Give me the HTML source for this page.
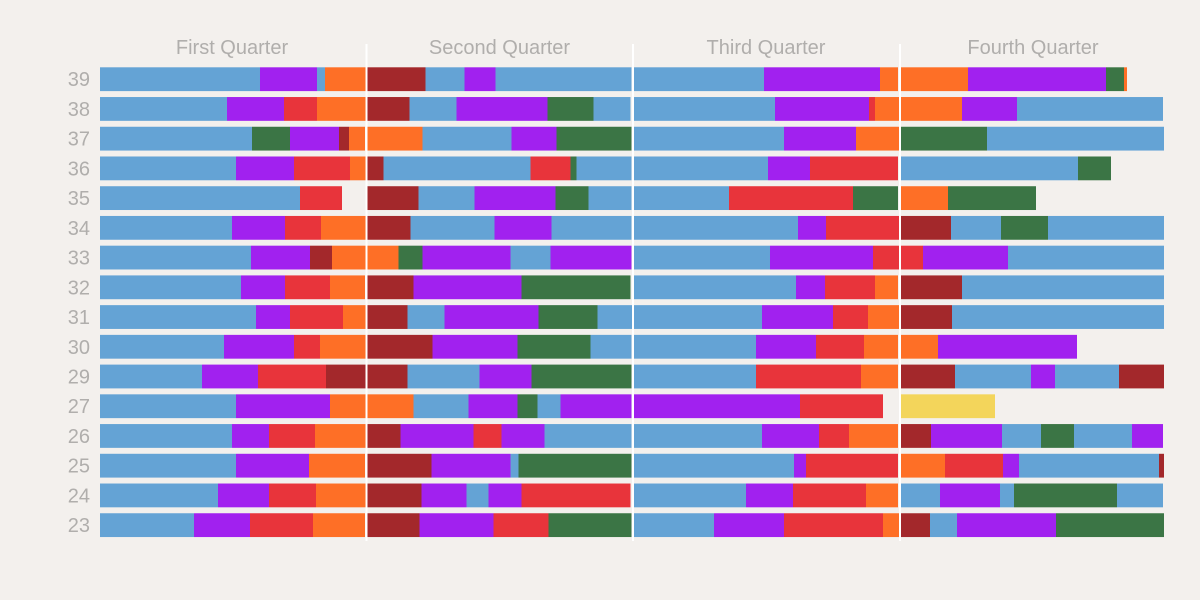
<!DOCTYPE html>
<html><head><meta charset="utf-8"><style>
html,body{margin:0;padding:0;background:#f3f0ed;}
svg{display:block;}
</style></head><body>
<svg id="chart" width="1200" height="600" viewBox="0 0 1200 600" xmlns="http://www.w3.org/2000/svg">
<rect x="0" y="0" width="1200" height="600" fill="#f3f0ed"/>
</svg>
<script>
const rows = ['39','38','37','36','35','34','33','32','31','30','29','27','26','25','24','23'];
const quarters = ['First Quarter','Second Quarter','Third Quarter','Fourth Quarter'];
const q1 = [
 [['B',160],['P',57],['B',8],['O',41]],
 [['B',127],['P',57],['R',33],['O',49]],
 [['B',152],['G',38],['P',49],['D',10],['O',16]],
 [['B',136],['P',58],['R',56],['O',16]],
 [['B',200],['R',42]],
 [['B',132],['P',53],['R',36],['O',45]],
 [['B',151],['P',59],['D',22],['O',34]],
 [['B',141],['P',44],['R',45],['O',35]],
 [['B',156],['P',34],['R',53],['O',23]],
 [['B',124],['P',70],['R',26],['O',46]],
 [['B',102],['P',56],['R',68],['D',40]],
 [['B',136],['P',94],['O',36]],
 [['B',132],['P',37],['R',46],['O',51]],
 [['B',136],['P',73],['O',56]],
 [['B',118],['P',51],['R',47],['O',50]],
 [['B',94],['P',56],['R',63],['O',52]]
];
const q2 = [
 [['D',58],['B',39],['P',31],['B',136]],
 [['D',42],['B',47],['P',91],['G',46],['B',37]],
 [['O',55],['B',89],['P',45],['G',75]],
 [['D',16],['B',147],['R',40],['G',6],['B',55]],
 [['D',51],['B',56],['P',81],['G',33],['B',43]],
 [['D',43],['B',84],['P',57],['B',80]],
 [['O',31],['G',24],['P',88],['B',40],['P',81]],
 [['D',46],['P',108],['G',109]],
 [['D',40],['B',37],['P',94],['G',59],['B',35]],
 [['D',65],['P',85],['G',73],['B',41]],
 [['D',40],['B',72],['P',52],['G',100]],
 [['O',46],['B',55],['P',49],['G',20],['B',23],['P',71]],
 [['D',33],['P',73],['R',28],['P',43],['B',87]],
 [['D',64],['P',79],['B',8],['G',113]],
 [['D',54],['P',45],['B',22],['P',33],['R',109]],
 [['D',52],['P',74],['R',55],['G',83]]
];
const q3 = [
 [['B',130],['P',116],['O',18]],
 [['B',141],['P',94],['R',6],['O',24]],
 [['B',150],['P',72],['O',43]],
 [['B',134],['P',42],['R',88]],
 [['B',95],['R',124],['G',45]],
 [['B',164],['P',28],['R',73]],
 [['B',136],['P',103],['R',26]],
 [['B',162],['P',29],['R',50],['O',23]],
 [['B',128],['P',71],['R',35],['O',31]],
 [['B',122],['P',60],['R',48],['O',34]],
 [['B',122],['R',105],['O',37]],
 [['P',166],['R',83]],
 [['B',128],['P',57],['R',30],['O',49]],
 [['B',160],['P',12],['R',92]],
 [['B',112],['P',47],['R',73],['O',32]],
 [['B',80],['P',70],['R',99],['O',16]]
];
const q4 = [
 [['O',67],['P',138],['G',18],['O',3]],
 [['O',61],['P',55],['B',146]],
 [['G',86],['B',177]],
 [['B',177],['G',33]],
 [['O',47],['G',88]],
 [['D',50],['B',50],['G',47],['B',116]],
 [['R',22],['P',85],['B',156]],
 [['D',61],['B',202]],
 [['D',51],['B',212]],
 [['O',37],['P',139]],
 [['D',54],['B',76],['P',24],['B',64],['D',45]],
 [['Y',94]],
 [['D',30],['P',71],['B',39],['G',33],['B',58],['P',31]],
 [['O',44],['R',58],['P',16],['B',140],['D',5]],
 [['B',39],['P',60],['B',14],['G',103],['B',46]],
 [['D',29],['B',27],['P',99],['G',108]]
];
const quarterData = [q1,q2,q3,q4];

const colors = {B:'#64a3d5',P:'#a121ef',R:'#e8343b',O:'#fe6f26',D:'#a3282b',G:'#3b7545',Y:'#f3d55b'};
const colorNames = {B:'blue',P:'purple',R:'red',O:'orange',D:'darkred',G:'green',Y:'yellow'};
const NS='http://www.w3.org/2000/svg';
const svg=document.getElementById('chart');
const panelX=[100,367.5,634,901], panelW=264, domainMax=264;
const rowTop=67.3, rowStep=29.73, barH=23.8;
function xScale(q,v){return panelX[q]+v*panelW/domainMax;}
function yScale(i){return rowTop+i*rowStep;}

quarters.forEach((name,q)=>{
  const t=document.createElementNS(NS,'text');
  t.setAttribute('x',panelX[q]+panelW/2);
  t.setAttribute('y',54);
  t.setAttribute('text-anchor','middle');
  t.setAttribute('font-family','Liberation Sans, sans-serif');
  t.setAttribute('font-size','20');
  t.setAttribute('fill','#b0aeac');
  t.textContent=name;
  
  
  svg.appendChild(t);
});
rows.forEach((r,i)=>{
  const t=document.createElementNS(NS,'text');
  t.setAttribute('x',90);
  t.setAttribute('y',yScale(i)+barH/2+7);
  t.setAttribute('text-anchor','end');
  t.setAttribute('font-family','Liberation Sans, sans-serif');
  t.setAttribute('font-size','20');
  t.setAttribute('fill','#b0aeac');
  t.textContent=r;
  
  
  svg.appendChild(t);
});
quarterData.forEach((qd,q)=>{
  qd.forEach((segs,i)=>{
    let acc=0;
    segs.forEach(([k,v],j)=>{
      const x0=xScale(q,acc), x1=xScale(q,acc+v);
      const rc=document.createElementNS(NS,'rect');
      rc.setAttribute('x',x0);
      rc.setAttribute('y',yScale(i));
      rc.setAttribute('width',Math.max(0,x1-x0));
      rc.setAttribute('height',barH);
      rc.setAttribute('fill',colors[k]);
      
      
      svg.appendChild(rc);
      acc+=v;
    });
  });
});
[366.5,633,900].forEach((x,k)=>{
  const l=document.createElementNS(NS,'line');
  l.setAttribute('x1',x);l.setAttribute('x2',x);
  l.setAttribute('y1',44);l.setAttribute('y2',541);
  l.setAttribute('stroke','#ffffff');l.setAttribute('stroke-width','2');
  
  
  svg.appendChild(l);
});
</script>
</body></html>
